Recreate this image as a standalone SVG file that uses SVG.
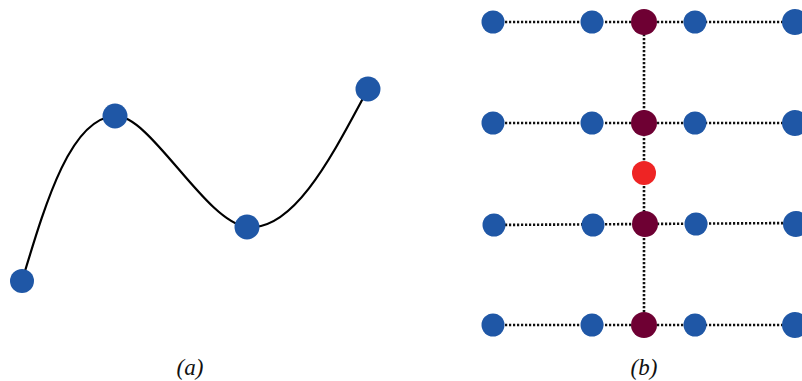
<svg xmlns="http://www.w3.org/2000/svg" width="802" height="381" viewBox="0 0 802 381">
<style>
.blue{fill:#1f57a6}
.mar{fill:#6e0033}
.red{fill:#ee2424}
.dot{stroke:#111;stroke-width:2.6;stroke-dasharray:2.2 1.8;fill:none}
.curve{stroke:#000;stroke-width:2.2;fill:none}
.lbl{font-family:'Liberation Serif','DejaVu Serif',serif;font-style:italic;font-size:23px;fill:#111;text-anchor:middle}
</style>
<rect width="802" height="381" fill="#fff"/>
<g id="connectors">
<path class="curve" d="M22,281 C45,205 70,118 115,116 C150,114 205,222 247,227 C295,232 335,150 368,89"/>
<path class="dot" d="M493,22 H795 M493,123 H795 M493,225 L795,223 M493,325 H795 M644,22 V325"/>
</g>
<g id="a1"><circle class="blue" cx="22" cy="281" r="12"/></g>
<g id="a2"><circle class="blue" cx="115" cy="116" r="12.5"/></g>
<g id="a3"><circle class="blue" cx="247" cy="227" r="12.5"/></g>
<g id="a4"><circle class="blue" cx="368" cy="89" r="12.5"/></g>
<g id="r1">
<circle class="blue" cx="493" cy="22" r="11.5"/><circle class="blue" cx="592" cy="22" r="11.5"/>
<circle class="mar" cx="644" cy="22" r="13"/><circle class="blue" cx="695" cy="22" r="11.5"/>
<circle class="blue" cx="795" cy="22" r="13"/>
</g>
<g id="r2">
<circle class="blue" cx="493" cy="123" r="11.5"/><circle class="blue" cx="592" cy="123" r="11.5"/>
<circle class="mar" cx="644" cy="123" r="13"/><circle class="blue" cx="695" cy="123" r="11.5"/>
<circle class="blue" cx="795" cy="123" r="13"/>
</g>
<g id="red"><circle class="red" cx="644" cy="173" r="12"/></g>
<g id="r3">
<circle class="blue" cx="494" cy="225" r="11.5"/><circle class="blue" cx="593" cy="225" r="11.5"/>
<circle class="mar" cx="645" cy="224" r="13"/><circle class="blue" cx="696" cy="224" r="11.5"/>
<circle class="blue" cx="796" cy="224" r="13"/>
</g>
<g id="r4">
<circle class="blue" cx="493" cy="325" r="11.5"/><circle class="blue" cx="592" cy="325" r="11.5"/>
<circle class="mar" cx="644" cy="325" r="13"/><circle class="blue" cx="695" cy="325" r="11.5"/>
<circle class="blue" cx="795" cy="325" r="13"/>
</g>
<g id="labels">
<text class="lbl" x="190" y="375">(a)</text>
<text class="lbl" x="644" y="375">(b)</text>
</g>
</svg>
